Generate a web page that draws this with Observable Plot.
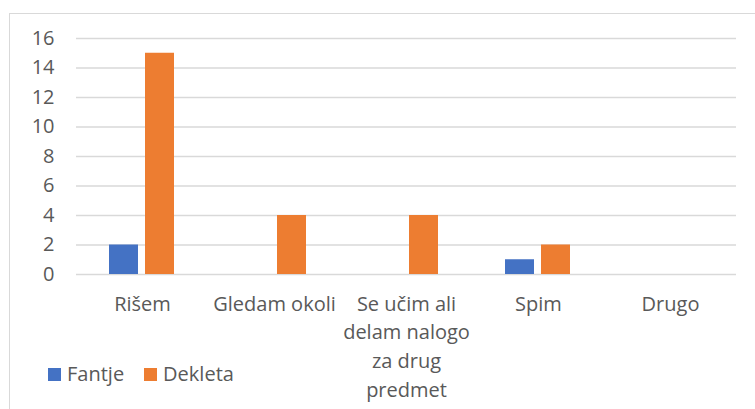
<!DOCTYPE html>
<html>
<head>
<meta charset="utf-8">
<script src="https://cdn.jsdelivr.net/npm/d3@7"></script>
<script src="https://cdn.jsdelivr.net/npm/@observablehq/plot@0.6"></script>
<style>
  html, body { margin: 0; padding: 0; background: #fff; overflow: hidden; }
  #wrap { position: relative; width: 755px; height: 409px; font-family: "Open Sans", sans-serif; }
  #frame { position: absolute; left: 9px; top: 13px; width: 900px; height: 600px;
           border-left: 1.5px solid #d9d9d9; border-top: 1.5px solid #d9d9d9; }
  #chart { position: absolute; left: 0; top: 0; }
  #legend { position: absolute; left: 48px; top: 364px; display: flex; align-items: center;
            font-size: 20px; line-height: 20px; color: #595959; }
  #legend .item { display: flex; align-items: center; margin-right: 20px; }
  #legend .sw { width: 13px; height: 13px; margin-right: 6px; }
</style>
</head>
<body>
<div id="wrap">
  <div id="frame"></div>
  <div id="chart"></div>
  <div id="legend"></div>
</div>
<script>
const categories = ["Rišem", "Gledam okoli", "Se učim ali delam nalogo za drug predmet", "Spim", "Drugo"];
const tickLabels = ["Rišem", "Gledam okoli", "Se učim ali\ndelam nalogo\nza drug\npredmet", "Spim", "Drugo"];
const seriesNames = ["Fantje", "Dekleta"];
const fantje = [2, 0, 0, 1, 0];
const dekleta = [15, 4, 4, 2, 0];
const seriesColors = ["#4472C4", "#ED7D31"];
const yTicks = [0, 2, 4, 6, 8, 10, 12, 14, 16];

const data = [];
categories.forEach((c, i) => {
  data.push({category: c, series: seriesNames[0], value: fantje[i]});
  data.push({category: c, series: seriesNames[1], value: dekleta[i]});
});
const labelOf = new Map(categories.map((c, i) => [c, tickLabels[i]]));

const chart = Plot.plot({
  width: 755,
  height: 409,
  marginLeft: 74,
  marginRight: 17,
  marginTop: 38,
  marginBottom: 135,
  style: {fontFamily: "'Open Sans', sans-serif", background: "transparent", color: "#595959"},
  fx: {domain: categories, padding: 0, axis: null},
  x: {domain: seriesNames, paddingInner: 0.19, paddingOuter: 0.89, axis: null},
  y: {domain: [0, 16], axis: null},
  color: {domain: seriesNames, range: seriesColors},
  marks: [
    Plot.gridY(yTicks, {stroke: "#d9d9d9", strokeOpacity: 1, strokeWidth: 1.5}),
    Plot.axisY(yTicks, {anchor: "left", tickSize: 0, tickPadding: 22, fontSize: 20, fill: "#595959", label: null}),
    Plot.axisFx({anchor: "bottom", tickSize: 0, tickPadding: 16, fontSize: 20, fill: "#595959",
                 lineHeight: 1.43, tickFormat: d => labelOf.get(d), label: null}),
    Plot.barY(data, {fx: "category", x: "series", y: "value", fill: "series"})
  ]
});
document.getElementById("chart").appendChild(chart);

const legend = document.getElementById("legend");
seriesNames.forEach((s, i) => {
  const item = document.createElement("div");
  item.className = "item";
  const sw = document.createElement("div");
  sw.className = "sw";
  sw.style.background = seriesColors[i];
  const t = document.createElement("span");
  t.textContent = s;
  item.appendChild(sw);
  item.appendChild(t);
  legend.appendChild(item);
});
</script>
</body>
</html>
